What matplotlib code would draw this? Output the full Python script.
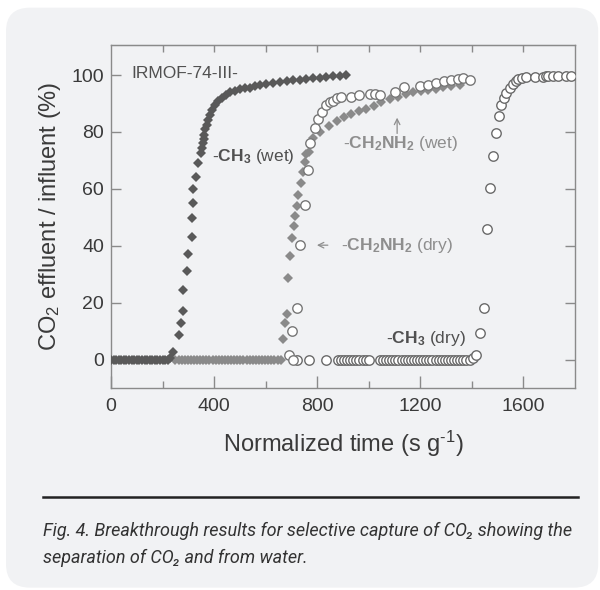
import matplotlib
matplotlib.use('Agg')
import matplotlib.pyplot as plt
from matplotlib.patches import FancyBboxPatch

plt.rcParams['font.family'] = ['Liberation Sans', 'DejaVu Sans']
plt.rcParams['mathtext.fontset'] = 'custom'
plt.rcParams['mathtext.rm'] = 'Liberation Sans'
plt.rcParams['mathtext.it'] = 'Liberation Sans:italic'
plt.rcParams['mathtext.bf'] = 'Liberation Sans:bold'

# -CH3 (wet), dark diamonds
ch3_wet_x = [0, 10, 20, 30, 40, 50, 60, 70, 80, 90, 100, 110, 120, 130, 140, 150, 160, 170,
             180, 190, 200, 210, 220, 230, 240, 265, 271, 278, 280, 293, 300, 313, 315, 317,
             319, 329, 338, 349, 352, 355, 359, 362, 366, 371, 377, 384, 392, 403, 415, 429,
             445, 461, 480, 500, 520, 539, 558, 577, 603, 629, 655, 681, 707, 733, 758, 784,
             810, 836, 862, 888, 913]
ch3_wet_y = [0, 0, 0, 0, 0, 0, 0, 0, 0, 0, 0, 0, 0, 0, 0, 0, 0, 0,
             0, 0, 0, 0, 0, 0.5, 2.5, 8.8, 13, 17, 24.5, 31, 37, 43, 49.6, 55,
             60, 64, 69, 72.6, 74.5, 76, 77.5, 79, 81, 82.5, 84.3, 86, 87.6, 89.6, 91, 92,
             93, 94, 94.5, 95, 95.3, 95.6, 96, 96.5, 97, 97.3, 97.7, 97.9, 98.1, 98.2, 98.5, 98.8,
             99.1, 99.3, 99.5, 99.7, 100]

# -CH2NH2 (wet), light diamonds
nh2_wet_x = [250, 262, 274, 286, 298, 310, 322, 334, 346, 358, 370, 382, 394, 406, 418, 430,
             442, 454, 466, 478, 490, 502, 514, 526, 538, 550, 562, 574, 586, 598, 610, 622,
             634, 646, 658, 668, 674, 681, 687, 696, 703, 709, 713, 720, 726, 739, 745, 752,
             758, 769, 784, 810, 845, 875, 904, 933, 962, 991, 1020, 1049, 1082, 1114, 1143,
             1172, 1201, 1230, 1259, 1288, 1320, 1353]
nh2_wet_y = [0, 0, 0, 0, 0, 0, 0, 0, 0, 0, 0, 0, 0, 0, 0, 0,
             0, 0, 0, 0, 0, 0, 0, 0, 0, 0, 0, 0, 0, 0, 0, 0,
             0, 0, 0, 7.1, 12.7, 16, 28.5, 36.5, 42.6, 47, 50.5, 54, 57.8, 62, 66, 69.5,
             72.4, 73, 78, 80, 82, 84, 85.2, 86.4, 87.3, 88, 89.3, 90.5, 91.5, 92.3, 93.2,
             94, 94.3, 94.6, 95.2, 95.8, 96.1, 96.4]

# -CH2NH2 (dry), open circles
nh2_dry_x = [691, 704, 707, 720, 733, 752, 765, 771, 791, 803, 820, 836, 849, 862, 875, 894,
             933, 962, 1004, 1023, 1043, 1101, 1136, 1198, 1230, 1262, 1290, 1320, 1345, 1365,
             1391]
nh2_dry_y = [1.6, 10, 0, 18, 40.2, 54.3, 66.5, 76, 81.4, 84.7, 87, 89.4, 90.5, 91, 92, 92.3,
             92.3, 92.9, 93.2, 93.2, 93, 94, 95.8, 96.1, 96.5, 97.3, 97.8, 98.1, 98.5, 99,
             98.1]

# -CH3 (dry), open circles
ch3_dry_x = [720, 769, 836, 880, 892, 904, 916, 928, 940, 952, 964, 976, 988, 1000,
             1043, 1055, 1067, 1079, 1091, 1103, 1115, 1127, 1139, 1151, 1163, 1175, 1187,
             1199, 1211, 1223, 1235, 1247, 1259, 1271, 1283, 1295, 1307, 1319, 1331, 1343,
             1355, 1367, 1379, 1391, 1403, 1417, 1430, 1446, 1459, 1469, 1482, 1495, 1505,
             1514, 1523, 1534, 1547, 1559, 1570, 1579, 1595, 1611, 1643, 1676, 1688, 1695,
             1715, 1734, 1766, 1786]
ch3_dry_y = [0, 0, 0, 0, 0, 0, 0, 0, 0, 0, 0, 0, 0, 0,
             0, 0, 0, 0, 0, 0, 0, 0, 0, 0, 0, 0, 0,
             0, 0, 0, 0, 0, 0, 0, 0, 0, 0, 0, 0, 0,
             0, 0, 0, 0, 0.5, 1.6, 9.2, 18, 46, 60.4, 71.5, 79.6, 85.5,
             89.6, 92, 93.8, 95.4, 97, 98, 98.5, 99, 99.3, 99.3, 99.4, 99.5, 99.5,
             99.5, 99.5, 99.5, 99.5]

x_major = [0, 400, 800, 1200, 1600]
x_minor = [200, 600, 1000, 1400]
y_ticks = [0, 20, 40, 60, 80, 100]

caption_1 = 'Fig. 4. Breakthrough results for selective capture of CO\u2082 showing the'
caption_2 = 'separation of CO\u2082 and from water.'

fig = plt.figure(figsize=(6.0, 5.9), dpi=100)
fig.patch.set_facecolor('white')

# light grey card behind everything
card = FancyBboxPatch((0.010, 0.004), 0.987, 0.983, boxstyle='round,pad=0,rounding_size=0.04',
                      transform=fig.transFigure, facecolor='#f1f2f4', edgecolor='none', zorder=-5)
fig.patches.append(card)

ax = fig.add_axes([0.185, 0.3424, 0.7733, 0.5805])
ax.set_facecolor('none')

ax.plot(nh2_wet_x, nh2_wet_y, 'D', color='#8a8a8a', markersize=5.6, markeredgewidth=0, zorder=3)
ax.plot(ch3_wet_x, ch3_wet_y, 'D', color='#595959', markersize=5.6, markeredgewidth=0, zorder=4)
ax.plot(ch3_dry_x, ch3_dry_y, 'o', markerfacecolor='white', markeredgecolor='#6a6a6a',
        markersize=6.8, markeredgewidth=1.0, zorder=5)
ax.plot(nh2_dry_x, nh2_dry_y, 'o', markerfacecolor='white', markeredgecolor='#777777',
        markersize=6.8, markeredgewidth=1.0, zorder=5)

ax.set_xlim(0, 1800)
ax.set_ylim(-10, 110.4)
ax.set_xticks(x_major)
ax.set_xticks(x_minor, minor=True)
ax.set_yticks(y_ticks)

for side in ['left', 'right', 'top', 'bottom']:
    ax.spines[side].set_color('#8a8a8a')
    ax.spines[side].set_linewidth(1.0)

ax.tick_params(axis='x', which='major', direction='in', length=9, width=1, color='#8a8a8a',
               labelsize=14, labelcolor='#3a3a3a', pad=7)
ax.tick_params(axis='x', which='minor', direction='in', length=5, width=1, color='#8a8a8a')
ax.tick_params(axis='y', direction='in', length=7.5, width=1, color='#8a8a8a',
               labelsize=14, labelcolor='#3a3a3a', right=True, pad=5)

top = ax.secondary_xaxis('top')
top.set_xticks(x_minor + x_major[1:])
top.tick_params(direction='in', length=5, width=1, color='#8a8a8a', labeltop=False)
top.spines['top'].set_color('#8a8a8a')

ax.set_xlabel('Normalized time (s g$^{\\text{-}1}$)', fontsize=17, color='#3a3a3a', labelpad=10)
ax.set_ylabel('CO$_2$ effluent / influent (%)', fontsize=17, color='#3a3a3a', labelpad=6)

ax.text(80, 100.6, 'IRMOF-74-III-', fontsize=12.5, color='#505050', va='center')
ax.text(390, 71.5, r'-$\mathbf{CH_3}$ (wet)', fontsize=12.5, color='#505050', va='center')
ax.text(899, 75.9, r'-$\mathbf{CH_2NH_2}$ (wet)', fontsize=12.5, color='#8e8e8e', va='center')
ax.text(894, 40.2, r'-$\mathbf{CH_2NH_2}$ (dry)', fontsize=12.5, color='#8e8e8e', va='center')
ax.text(1068, 7.5, r'-$\mathbf{CH_3}$ (dry)', fontsize=12.5, color='#505050', va='center')
ax.annotate('', xy=(1110, 86), xytext=(1110, 78.5),
            arrowprops=dict(arrowstyle='->', color='#8e8e8e', lw=0.9))
ax.annotate('', xy=(788, 40.2), xytext=(852, 40.2),
            arrowprops=dict(arrowstyle='->', color='#8e8e8e', lw=0.9))

fig.add_artist(plt.Line2D([43 / 600, 578 / 600], [1 - 497 / 590, 1 - 497 / 590],
                          color='#222222', linewidth=1.8, transform=fig.transFigure))
fig.text(43 / 600, 1 - 531 / 590, caption_1, fontsize=13, style='italic', color='#333333',
         family=['Roboto', 'DejaVu Sans'], va='center')
fig.text(43 / 600, 1 - 558 / 590, caption_2, fontsize=13, style='italic', color='#333333',
         family=['Roboto', 'DejaVu Sans'], va='center')

fig.savefig('out.png', dpi=100, facecolor='white')
